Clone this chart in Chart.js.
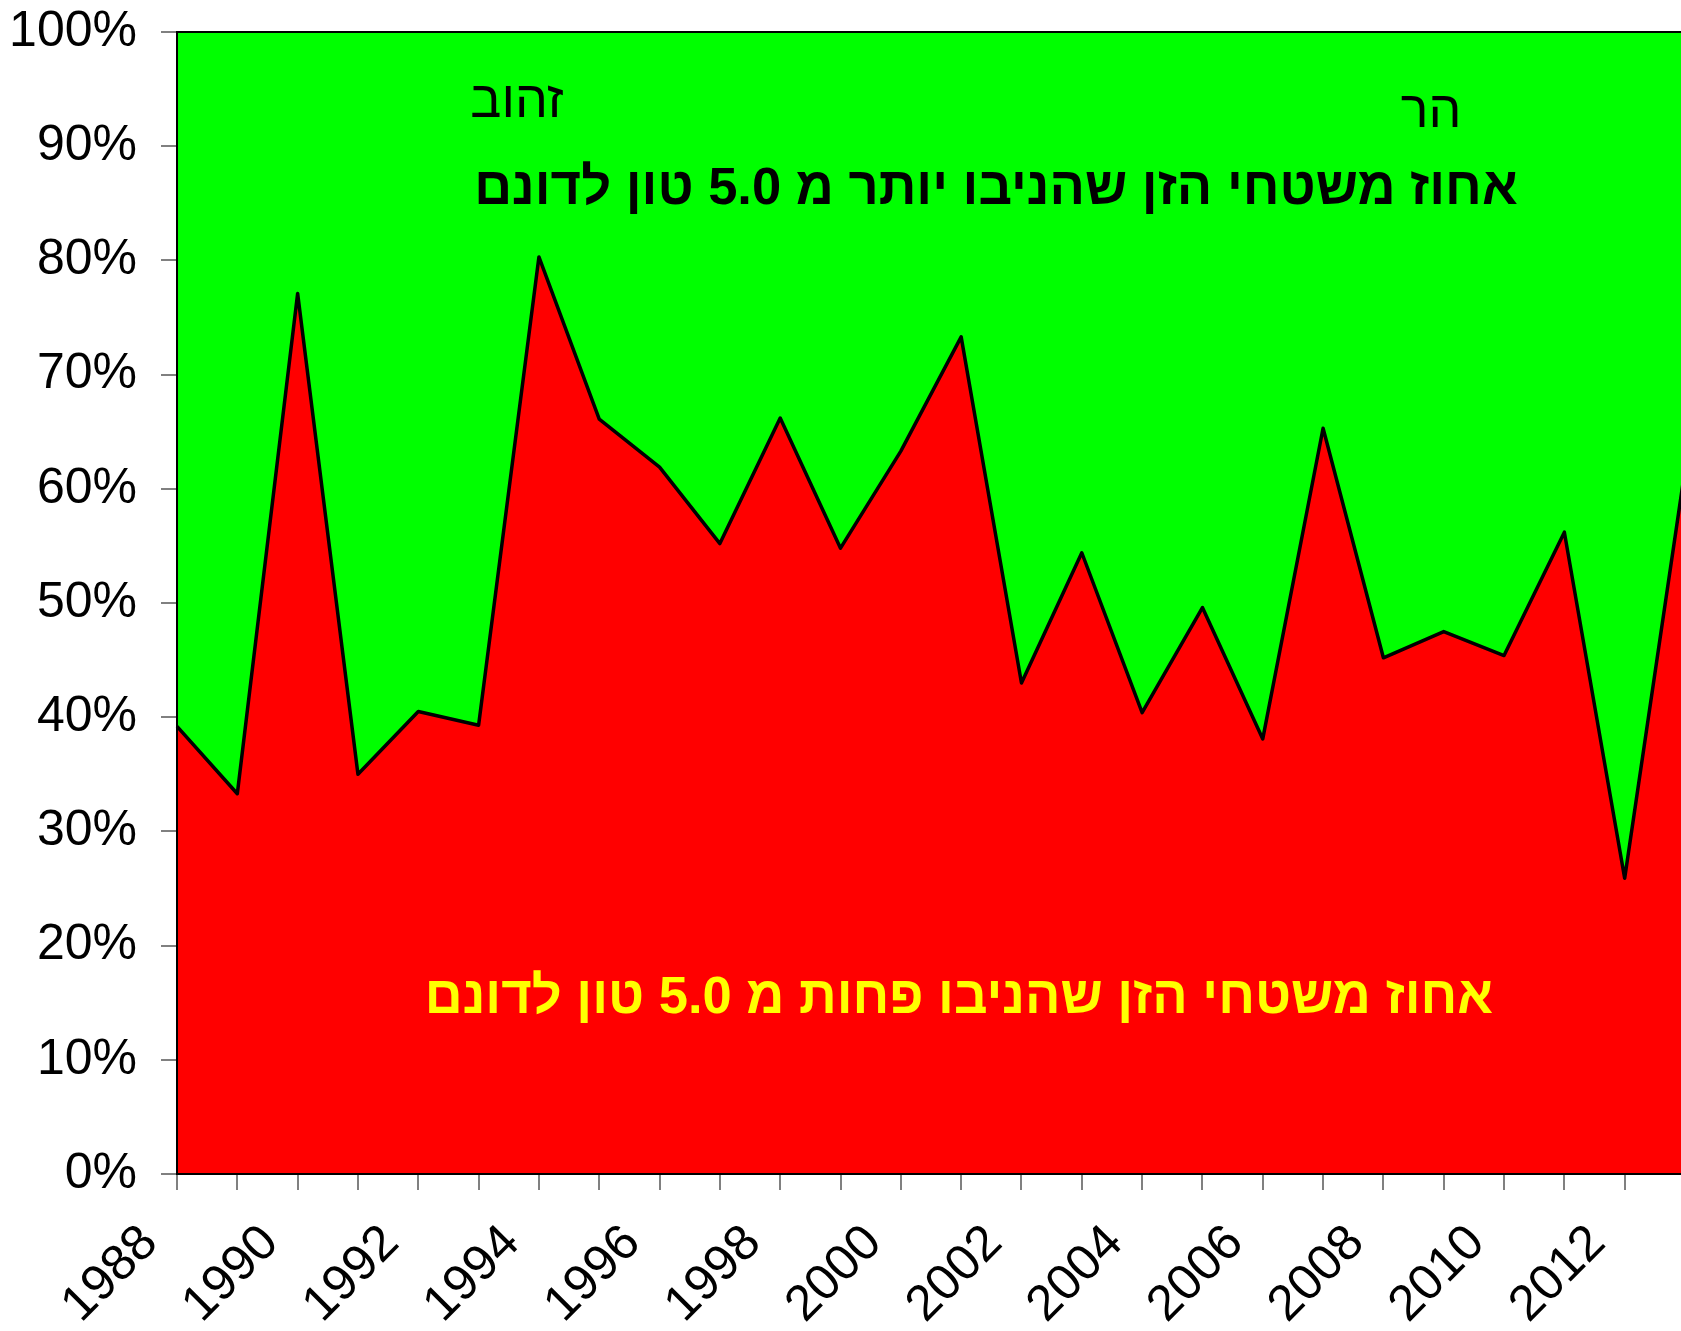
<!DOCTYPE html>
<html>
<head>
<meta charset="utf-8">
<script src="https://cdn.jsdelivr.net/npm/chart.js@4.4.1/dist/chart.umd.min.js"></script>
<style>
    html, body { margin: 0; padding: 0; background: #fff; overflow: hidden; }
    #wrap { position: relative; width: 1685px; height: 1331px; }
</style>
</head>
<body>
<div id="wrap"><canvas id="chart"></canvas></div>
<script>
// Years on the x axis
const years = ['1988', '1989', '1990', '1991', '1992', '1993', '1994', '1995', '1996', '1997',
    '1998', '1999', '2000', '2001', '2002', '2003', '2004', '2005', '2006', '2007',
    '2008', '2009', '2010', '2011', '2012', '2013'];

// % of area with yield below 5.0 ton per dunam (red)
const belowShare = [39.2, 33.3, 77.1, 35.0, 40.5, 39.3, 80.3, 66.1, 61.9, 55.2,
    66.2, 54.8, 63.3, 73.3, 43.0, 54.4, 40.4, 49.6, 38.1, 65.3,
    45.2, 47.5, 45.4, 56.2, 25.9, 61.7];

// % of area with yield above 5.0 ton per dunam (green, stacked on top)
const aboveShare = [60.8, 66.7, 22.9, 65.0, 59.5, 60.7, 19.7, 33.9, 38.1, 44.8,
    33.8, 45.2, 36.7, 26.7, 57.0, 45.6, 59.6, 50.4, 61.9, 34.7,
    54.8, 52.5, 54.6, 43.8, 74.1, 38.3];

const yTicks = [0, 10, 20, 30, 40, 50, 60, 70, 80, 90, 100];

const titleAbove = 'אחוז משטחי הזן שהניבו יותר מ 5.0 טון לדונם';
const titleBelow = 'אחוז משטחי הזן שהניבו פחות מ 5.0 טון לדונם';
const varietyLabels = ['זהוב', 'הר'];

const textPlugin = {
    id: 'texts',
    afterDatasetsDraw(chart) {
        const ctx = chart.ctx;
        const area = chart.chartArea;
        ctx.save();
        // frame round the plot
        ctx.strokeStyle = '#000';
        ctx.lineWidth = 2;
        ctx.strokeRect(area.left, area.top, area.right - area.left, area.bottom - area.top);

        ctx.direction = 'rtl';
        ctx.textAlign = 'center';
        ctx.textBaseline = 'middle';
        ctx.fillStyle = '#000';
        ctx.font = '52px "Liberation Sans", Arial, sans-serif';
        ctx.fillText(varietyLabels[0], 517, 103);
        ctx.fillText(varietyLabels[1], 1431, 113);

        ctx.font = 'bold 52.5px "Liberation Sans", Arial, sans-serif';
        ctx.fillText(titleAbove, 996, 190);
        ctx.fillStyle = '#ffff00';
        ctx.fillText(titleBelow, 959, 999);
        ctx.restore();
    }
};

new Chart(document.getElementById('chart'), {
    type: 'line',
    data: {
        labels: years,
        datasets: [{
            label: 'below',
            data: belowShare,
            backgroundColor: '#ff0000',
            borderColor: '#000',
            borderWidth: 3.5,
            borderJoinStyle: 'round',
            fill: 'origin',
            pointRadius: 0,
            tension: 0
        }, {
            label: 'above',
            data: aboveShare,
            backgroundColor: '#00ff00',
            borderWidth: 0,
            borderColor: 'rgba(0,0,0,0)',
            fill: '-1',
            pointRadius: 0,
            tension: 0
        }]
    },
    options: {
        responsive: true,
        maintainAspectRatio: false,
        animation: false,
        layout: { padding: { top: 32, right: 0, left: 0, bottom: 0 } },
        plugins: {
            legend: { display: false },
            tooltip: { enabled: false }
        },
        scales: {
            x: {
                offset: false,
                grid: { drawOnChartArea: false, tickLength: 16, color: '#808080', lineWidth: 2 },
                border: { color: '#000', width: 2 },
                ticks: {
                    autoSkip: false,
                    maxRotation: 45,
                    minRotation: 45,
                    padding: 24,
                    labelOffset: -27,
                    color: '#000',
                    font: { family: '"Liberation Sans", Arial, sans-serif', size: 50 },
                    callback: function (v, i) { return i % 2 === 0 ? years[i] : ''; }
                },
                afterFit(scale) {
                    scale.height = 157;
                    scale.paddingLeft = 0;
                    scale.paddingRight = 0;
                }
            },
            y: {
                stacked: true,
                min: 0,
                max: 100,
                afterBuildTicks(scale) {
                    scale.ticks = yTicks.map(v => ({ value: v }));
                },
                grid: { drawOnChartArea: false, tickLength: 16, color: '#808080', lineWidth: 2 },
                border: { color: '#000', width: 2 },
                ticks: {
                    padding: 24,
                    color: '#000',
                    font: { family: '"Liberation Sans", Arial, sans-serif', size: 50 },
                    callback: v => v + '%'
                },
                afterFit(scale) {
                    scale.width = 177;
                    scale.paddingTop = 0;
                    scale.paddingBottom = 0;
                }
            }
        }
    },
    plugins: [textPlugin]
});
</script>
</body>
</html>
